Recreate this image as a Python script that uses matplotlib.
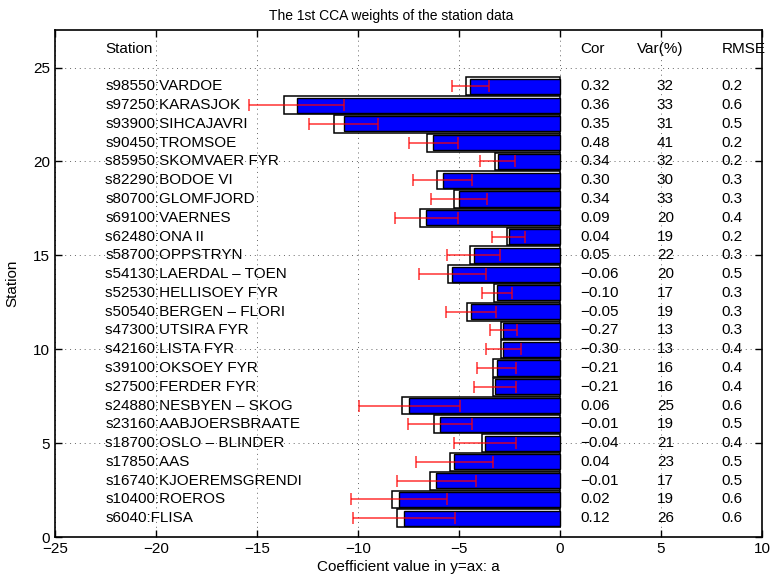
import matplotlib
matplotlib.use('Agg')
import matplotlib.pyplot as plt
import numpy as np

plt.rcParams['font.family'] = ['Liberation Sans', 'DejaVu Sans']

stations = ['s98550:VARDOE', 's97250:KARASJOK', 's93900:SIHCAJAVRI', 's90450:TROMSOE',
            's85950:SKOMVAER FYR', 's82290:BODOE VI', 's80700:GLOMFJORD', 's69100:VAERNES',
            's62480:ONA II', 's58700:OPPSTRYN', 's54130:LAERDAL \u2013 TOEN', 's52530:HELLISOEY FYR',
            's50540:BERGEN \u2013 FLORI', 's47300:UTSIRA FYR', 's42160:LISTA FYR', 's39100:OKSOEY FYR',
            's27500:FERDER FYR', 's24880:NESBYEN \u2013 SKOG', 's23160:AABJOERSBRAATE',
            's18700:OSLO \u2013 BLINDER', 's17850:AAS', 's16740:KJOEREMSGRENDI', 's10400:ROEROS',
            's6040:FLISA']

# regression coefficient a (blue) and the outer estimate (white)
coef = [-4.44, -13.04, -10.71, -6.27, -3.09, -5.81, -5.00, -6.62, -2.54, -4.27, -5.33, -3.12,
        -4.41, -2.81, -2.81, -3.14, -3.22, -7.46, -5.94, -3.71, -5.23, -6.12, -7.97, -7.71]
coef2 = [-4.64, -13.65, -11.21, -6.57, -3.23, -6.11, -5.23, -6.93, -2.64, -4.46, -5.56, -3.25,
         -4.59, -2.92, -2.90, -3.30, -3.33, -7.80, -6.24, -3.88, -5.46, -6.42, -8.32, -8.05]
err = [0.92, 2.35, 1.72, 1.22, 0.85, 1.47, 1.40, 1.57, 0.82, 1.32, 1.67, 0.76,
       1.23, 0.66, 0.86, 0.96, 1.05, 2.51, 1.58, 1.52, 1.92, 1.94, 2.37, 2.52]

cor = [0.32, 0.36, 0.35, 0.48, 0.34, 0.30, 0.34, 0.09, 0.04, 0.05, -0.06, -0.10,
       -0.05, -0.27, -0.30, -0.21, -0.21, 0.06, -0.01, -0.04, 0.04, -0.01, 0.02, 0.12]
var = [32, 33, 31, 41, 32, 30, 33, 20, 19, 22, 20, 17, 19, 13, 13, 16, 16, 25, 19, 21, 23, 17, 19, 26]
rmse = [0.2, 0.6, 0.5, 0.2, 0.2, 0.3, 0.3, 0.4, 0.2, 0.3, 0.5, 0.3, 0.3, 0.3, 0.4, 0.4,
        0.4, 0.6, 0.5, 0.4, 0.5, 0.5, 0.6, 0.6]

n = len(stations)
y = np.arange(n, 0, -1)

fig = plt.figure(figsize=(7.7, 5.77), dpi=100)
ax = fig.add_axes([0.0714, 0.0693, 0.9182, 0.8787])

ax.barh(y, coef2, height=0.95, color='white', edgecolor='black', linewidth=1.1, zorder=2)
ax.barh(y, coef, height=0.8, color='#0000ff', edgecolor='black', linewidth=1.0, zorder=3)
ax.errorbar(coef, y, xerr=err, fmt='none', ecolor='red', elinewidth=1.1,
            capsize=4, capthick=1.1, alpha=0.8, zorder=4)

fs = 11
hdr = n + 2
ax.text(-22.5, hdr, 'Station', fontsize=fs, va='center')
ax.text(1, hdr, 'Cor', fontsize=fs, va='center')
ax.text(3.8, hdr, 'Var(%)', fontsize=fs, va='center')
ax.text(8, hdr, 'RMSE', fontsize=fs, va='center')
for i in range(n):
    ax.text(-22.5, y[i], stations[i], fontsize=fs, va='center')
    ax.text(1, y[i], f'{cor[i]:.2f}'.replace('-', '\u2212'), fontsize=fs, va='center')
    ax.text(4.8, y[i], f'{var[i]}', fontsize=fs, va='center')
    ax.text(8, y[i], f'{rmse[i]:.1f}', fontsize=fs, va='center')

ax.set_xlim(-25, 10)
ax.set_ylim(0, 27)
ax.set_xticks(np.arange(-25, 11, 5))
ax.set_yticks(np.arange(0, 26, 5))
ax.tick_params(direction='in', top=True, right=True, labelsize=fs, length=5, width=1)
ax.grid(True, linestyle=(0, (1, 4)), color='#666666', linewidth=0.7, zorder=0)
ax.set_axisbelow(True)
for s in ax.spines.values():
    s.set_linewidth(1.2)

ax.set_xlabel('Coefficient value in y=ax: a', fontsize=fs, labelpad=3)
ax.set_ylabel('Station', fontsize=fs, labelpad=10)
ax.set_title('The 1st CCA weights of the station data', fontsize=10, pad=7, x=0.476)

fig.savefig('out.png', dpi=100)
